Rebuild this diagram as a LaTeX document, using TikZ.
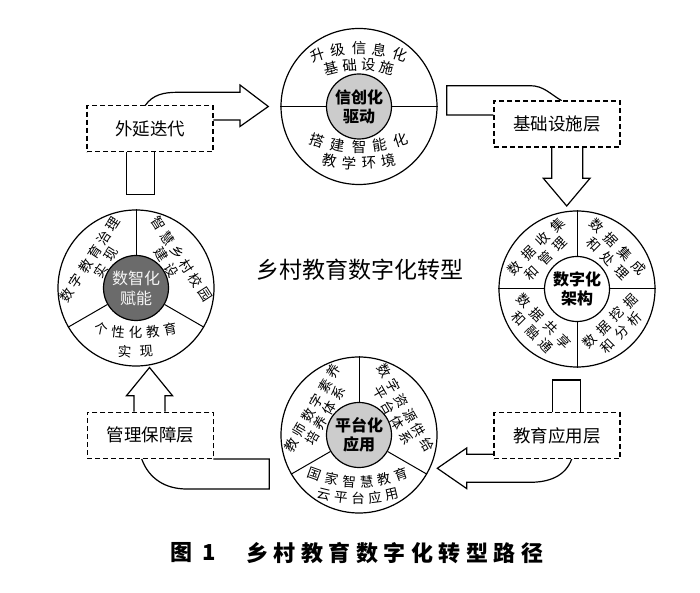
\documentclass[tikz,border=0pt]{standalone}
\usepackage{fontspec}
\setmainfont{Noto Sans CJK SC}
\tikzset{
  outerring/.style={circle, draw, line width=1.2pt, minimum size=156pt, inner sep=0pt},
  hub/.style={circle, draw, line width=1.2pt, minimum size=65pt, inner sep=0pt, align=center,
    font=\bfseries\fontsize{16}{19}\selectfont},
  divider/.style={line width=1pt},
  ringtxt/.style={inner sep=0pt, font=\fontsize{13.5}{15}\selectfont},
  toptxt/.style={inner sep=0pt, font=\fontsize{14.5}{16}\selectfont},
  captxt/.style={inner sep=0pt, font=\bfseries\fontsize{22}{24}\selectfont},
  layerbox/.style={draw, dash pattern=on 5pt off 3pt, line width=1.2pt, fill=white,
    minimum width=126pt, minimum height=46pt, inner sep=0pt, font=\fontsize{17.5}{20}\selectfont},
  blockarrow/.style={draw, line width=1.2pt, line join=miter},
}
% text on a frown arc (top)
\newcommand\ArcUp[8]{%
  \foreach \ch [count=\i] in {#8}{%
    \pgfmathsetmacro\ang{90-(\i-(#7+1)/2)*#6}%
    \pgfmathsetmacro\rot{\ang-90}%
    \path (#3,#4) ++(\ang:#5) node[#1,rotate=\rot] (#2-\i) {\ch};
  }}
% text on a smile arc (bottom)
\newcommand\ArcDown[8]{%
  \foreach \ch [count=\i] in {#8}{%
    \pgfmathsetmacro\ang{270+(\i-(#7+1)/2)*#6}%
    \pgfmathsetmacro\rot{\ang-270}%
    \path (#3,#4) ++(\ang:#5) node[#1,rotate=\rot] (#2-\i) {\ch};
  }}
% text on a straight rotated line
\newcommand\LineTxt[8]{%
  \foreach \ch [count=\i] in {#8}{%
    \pgfmathsetmacro\off{(\i-(#7+1)/2)*#6}%
    \path (#3,#4) ++(#5:\off) node[#1,rotate=#5] (#2-\i) {\ch};
  }}
\begin{document}
\begin{tikzpicture}[x=1pt,y=1pt]
\useasboundingbox (0,0) rectangle (700,593);
\fill[white] (0,0) rectangle (700,593);

% ---------- block arrows (drawn first, boxes cover their ends) ----------
% 外延迭代 -> top circle
\draw[blockarrow] (145,487.3) to[out=55,in=180] (178,500.7) -- (240,500.7) -- (240,508)
  -- (268.3,486.5) -- (240,466.5) -- (240,473) -- (213.3,473);
% stem below 外延迭代
\draw[blockarrow] (126.7,441.3) -- (126.7,398.7) -- (154.3,398.7) -- (154.3,441.3);
% top circle -> 基础设施层
\draw[blockarrow] (561.7,492.3) to[out=150,in=0] (530,507.3) -- (446.7,507.3) -- (446.7,478) -- (493.3,478);
% 基础设施层 -> right circle
\draw[blockarrow] (551.7,445.7) -- (551.7,414.7) -- (543.3,414.7) -- (566.7,387)
  -- (590,414.7) -- (582.7,414.7) -- (582.7,445.7);
% stem above 教育应用层
\draw[blockarrow] (552.7,180.7) -- (552.7,213) -- (580.7,213) -- (580.7,180.7);
% 教育应用层 -> bottom circle
\draw[blockarrow] (493.3,138.7) -- (466.7,138.7) -- (466.7,145) -- (437.3,124.7)
  -- (466.7,104.4) -- (466.7,110.7) -- (530,110.7) to[out=0,in=-110] (571.7,134);
% bottom circle -> 管理保障层
\draw[blockarrow] (213.3,134) -- (269.3,134) -- (269.3,104) -- (186.7,104) to[out=180,in=-70] (141.7,134);
% 管理保障层 -> left circle
\draw[blockarrow] (134,181.3) -- (134,197.3) -- (126.5,197.3) -- (149.5,225.5)
  -- (172.5,197.3) -- (165,197.3) -- (165,181.3);

% ---------- layer boxes ----------
\node[layerbox] (bWai) at (150,464.3) {外延迭代};
\node[layerbox] (bJi)  at (557,469)   {基础设施层};
\node[layerbox] (bJy)  at (557,157.4) {教育应用层};
\node[layerbox] (bGl)  at (150.3,157.7) {管理保障层};

% ---------- top circle: 信创化驱动 ----------
\node[outerring] (topC) at (359,486.5) {};
\draw[divider] (topC.west) -- ++(45.5,0);
\draw[divider] (topC.east) -- ++(-45.5,0);
\node[hub, fill=black!20] (topH) at (359,486.5) {信创化\\驱动};
\ArcUp{toptxt}{tu1}{359}{412.7}{132}{9.1}{5}{升,级,信,息,化}
\ArcUp{toptxt}{tu2}{359}{412.7}{115.5}{9.3}{4}{基,础,设,施}
\ArcDown{toptxt}{td1}{359}{581.3}{135}{9.0}{5}{搭,建,智,能,化}
\ArcDown{toptxt}{td2}{359}{581.3}{152}{7.5}{4}{教,学,环,境}

% ---------- right circle: 数字化架构 ----------
\node[outerring] (rightC) at (577,304) {};
\node[hub, fill=white] (rightH) at (577,304) {数字化\\架构};
\draw[divider] (rightC.north) -- (rightH.north);
\draw[divider] (rightC.south) -- (rightH.south);
\draw[divider] (rightC.west) -- (rightH.west);
\draw[divider] (rightC.east) -- (rightH.east);
\LineTxt{ringtxt}{r1}{536}{346.5}{45}{20}{4}{数,据,收,集}
\LineTxt{ringtxt}{r2}{546}{334.5}{45}{20}{3}{和,管,理}
\LineTxt{ringtxt}{r3}{618}{346.5}{-45}{20}{4}{数,据,集,成}
\LineTxt{ringtxt}{r4}{608}{334.5}{-45}{20}{3}{和,处,理}
\LineTxt{ringtxt}{r5}{544}{272}{-45}{19}{4}{数,据,共,享}
\LineTxt{ringtxt}{r6}{532.7}{260.7}{-45}{19}{3}{和,融,通}
\LineTxt{ringtxt}{r7}{610}{272}{45}{19}{4}{数,据,挖,掘}
\LineTxt{ringtxt}{r8}{621.3}{260.7}{45}{19}{3}{和,分,析}

% ---------- bottom circle: 平台化应用 ----------
\node[outerring] (botC) at (359,158) {};
\node[hub, fill=black!20] (botH) at (359,158) {平台化\\应用};
\draw[divider] (botC.north) -- (botH.north);
\draw[divider] (botC.210) -- (botH.210);
\draw[divider] (botC.330) -- (botH.330);
\LineTxt{ringtxt}{b1}{312.2}{185}{60}{17}{6}{教,师,数,字,素,养}
\LineTxt{ringtxt}{b2}{325.2}{177.5}{60}{17.5}{4}{培,养,体,系}
\LineTxt{ringtxt}{b3}{405.8}{185}{-60}{17}{6}{数,字,资,源,供,给}
\LineTxt{ringtxt}{b4}{392.8}{177.5}{-60}{17.5}{4}{平,台,体,系}
\ArcDown{ringtxt}{b5}{358}{239.8}{128.5}{7.9}{6}{国,家,智,慧,教,育}
\ArcDown{ringtxt}{b6}{358}{239.8}{145}{6.75}{5}{云,平,台,应,用}

% ---------- left circle: 数智化赋能 ----------
\node[outerring] (leftC) at (136,305) {};
\node[hub, fill=black!58, text=black!4, font=\fontsize{16}{20}\selectfont] (leftH) at (136,305) {数智化\\赋能};
\draw[divider] (leftC.north) -- (leftH.north);
\draw[divider] (leftC.210) -- (leftH.210);
\draw[divider] (leftC.330) -- (leftH.330);
\LineTxt{ringtxt}{l1}{90.2}{333.6}{57}{17}{6}{数,字,教,育,治,理}
\LineTxt{ringtxt}{l2}{105.7}{330.4}{57}{19}{2}{实,现}
\LineTxt{ringtxt}{l3}{181.8}{333.6}{-57}{17}{6}{智,慧,乡,村,校,园}
\LineTxt{ringtxt}{l4}{166.3}{330.4}{-57}{19}{2}{建,设}
\ArcDown{ringtxt}{l5}{135.5}{435.3}{175}{5.7}{5}{个,性,化,教,育}
\ArcDown{ringtxt}{l6}{135.5}{435.3}{194}{6.4}{2}{实,现}

% ---------- centre label ----------
\node[inner sep=0pt, font=\fontsize{23}{26}\selectfont] (centerLabel) at (359.5,323) {乡村教育数字化转型};

% ---------- caption ----------
\node[captxt] (capFig) at (181.7,40) {图};
\node[captxt] (capNum) at (209,40) {1};
\LineTxt{captxt}{cap}{394.9}{40}{0}{27.5}{11}{乡,村,教,育,数,字,化,转,型,路,径}
\end{tikzpicture}
\end{document}
